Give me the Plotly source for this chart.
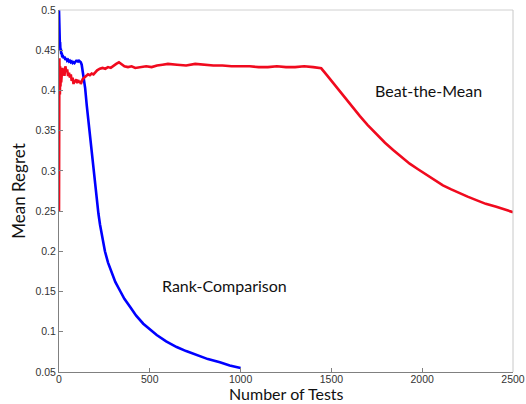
import plotly.graph_objects as go

# Rank-Comparison: mean regret vs. number of tests
rank_tests = [0, 1, 2, 3, 4, 5, 6, 8, 10, 12, 15, 18, 20, 25, 30, 35, 40, 45, 50, 55,
              60, 65, 70, 75, 80, 85, 90, 95, 100, 105, 110, 115, 120, 125, 130, 134,
              144, 153, 162, 171, 180, 190, 199, 208, 217, 226, 240, 253, 270, 290, 310,
              336, 360, 391, 425, 464, 500, 538, 590, 648, 700, 758, 820, 886, 940, 1000]
rank_regret = [0.5, 0.48, 0.47, 0.462, 0.468, 0.455, 0.46, 0.45, 0.452, 0.445, 0.447,
               0.441, 0.444, 0.44, 0.442, 0.438, 0.44, 0.437, 0.438, 0.436, 0.437, 0.435,
               0.436, 0.434, 0.435, 0.434, 0.436, 0.437, 0.437, 0.436, 0.437, 0.436,
               0.435, 0.432, 0.425, 0.419, 0.403, 0.381, 0.361, 0.340, 0.320, 0.298,
               0.278, 0.262, 0.247, 0.233, 0.215, 0.200, 0.186, 0.173, 0.162, 0.151,
               0.141, 0.131, 0.120, 0.110, 0.103, 0.096, 0.088, 0.081, 0.076, 0.071,
               0.066, 0.062, 0.058, 0.055]

# Beat-the-Mean: mean regret vs. number of tests
btm_tests = [0, 1, 2, 3, 4, 5, 6, 8, 10, 12, 14, 16, 18, 20, 25, 30, 35, 40, 45, 50,
             55, 60, 65, 70, 75, 80, 85, 90, 95, 100, 105, 110, 115, 120, 125, 130, 140,
             150, 160, 170, 180, 190, 200, 210, 225, 240, 255, 270, 285, 300, 315, 330,
             345, 360, 380, 400, 420, 450, 480, 510, 540, 570, 600, 650, 700, 750, 800,
             850, 900, 950, 1000, 1050, 1100, 1150, 1200, 1250, 1300, 1350, 1400, 1444,
             1475, 1510, 1565, 1610, 1657, 1700, 1748, 1795, 1840, 1885, 1931, 1977,
             2023, 2070, 2114, 2160, 2206, 2250, 2298, 2350, 2408, 2455, 2500]
btm_regret = [0.25, 0.39, 0.44, 0.40, 0.425, 0.395, 0.43, 0.405, 0.42, 0.41, 0.425,
              0.415, 0.428, 0.42, 0.427, 0.418, 0.43, 0.424, 0.426, 0.418, 0.422, 0.416,
              0.42, 0.412, 0.416, 0.408, 0.413, 0.41, 0.414, 0.409, 0.413, 0.41, 0.412,
              0.408, 0.411, 0.414, 0.416, 0.418, 0.42, 0.419, 0.421, 0.42, 0.423, 0.425,
              0.427, 0.428, 0.427, 0.429, 0.428, 0.431, 0.433, 0.435, 0.432, 0.43, 0.429,
              0.43, 0.428, 0.429, 0.43, 0.429, 0.431, 0.432, 0.433, 0.432, 0.431, 0.433,
              0.432, 0.431, 0.431, 0.43, 0.43, 0.43, 0.429, 0.429, 0.43, 0.429, 0.429,
              0.43, 0.429, 0.4275, 0.419, 0.409, 0.393, 0.380, 0.368, 0.357, 0.3455,
              0.335, 0.326, 0.317, 0.309, 0.302, 0.295, 0.288, 0.282, 0.277, 0.272,
              0.268, 0.2637, 0.259, 0.2553, 0.252, 0.2487]

x_ticks = [0, 500, 1000, 1500, 2000, 2500]
y_ticks = [0.05, 0.1, 0.15, 0.2, 0.25, 0.3, 0.35, 0.4, 0.45, 0.5]
y_tick_text = ["0.05", "0.1", "0.15", "0.2", "0.25", "0.3", "0.35", "0.4", "0.45", "0.5"]

fig = go.Figure()
fig.add_trace(go.Scatter(x=rank_tests, y=rank_regret, mode="lines",
                         line=dict(color="rgb(0,0,255)", width=2.6),
                         name="Rank-Comparison"))
fig.add_trace(go.Scatter(x=btm_tests, y=btm_regret, mode="lines",
                         line=dict(color="rgb(240,10,30)", width=2.6),
                         name="Beat-the-Mean"))

tick_font = dict(family="Liberation Sans, Arial, sans-serif", size=10.5, color="#333333")
title_font = dict(family="Lato, Open Sans, sans-serif", size=17, color="#111111")
xtitle_font = dict(family="Lato, Open Sans, sans-serif", size=16, color="#111111")

fig.update_xaxes(range=[0, 2500], tickvals=x_ticks, ticks="inside", ticklen=4,
                 tickcolor="#808080", showline=True, linecolor="#808080", linewidth=1,
                 showgrid=False, zeroline=False, tickfont=tick_font, automargin=False,
                 ticklabelstandoff=-3)
fig.update_yaxes(range=[0.05, 0.5], tickvals=y_ticks, ticktext=y_tick_text,
                 ticks="inside", ticklen=4, tickcolor="#808080", showline=True,
                 linecolor="#808080", linewidth=1, showgrid=False, zeroline=False,
                 tickfont=tick_font, automargin=False,
                 title=dict(text="Mean Regret", font=title_font, standoff=5))

# x-axis title placed just under the tick labels, inside the page
fig.add_annotation(x=0.5, y=0, xref="paper", yref="paper", yanchor="bottom",
                   yshift=-32, borderpad=0, text="Number of Tests", showarrow=False,
                   font=xtitle_font)

# light box edges on the top and right
fig.add_shape(type="line", xref="paper", yref="paper", x0=0, x1=1, y0=1, y1=1,
              line=dict(color="#d0d0d0", width=1))
fig.add_shape(type="line", xref="paper", yref="paper", x0=1, x1=1, y0=0, y1=1,
              line=dict(color="#c8c8c8", width=1))

label_font = dict(family="Lato, Open Sans, sans-serif", size=16, color="#111111")
fig.add_annotation(x=2035, y=0.4005, text="Beat-the-Mean", showarrow=False, font=label_font)
fig.add_annotation(x=914, y=0.157, text="Rank-Comparison", showarrow=False, font=label_font)

fig.update_layout(width=526, height=404, margin=dict(l=59, r=13, t=10, b=32),
                  paper_bgcolor="white", plot_bgcolor="white", showlegend=False)

fig.write_html("out.html")
